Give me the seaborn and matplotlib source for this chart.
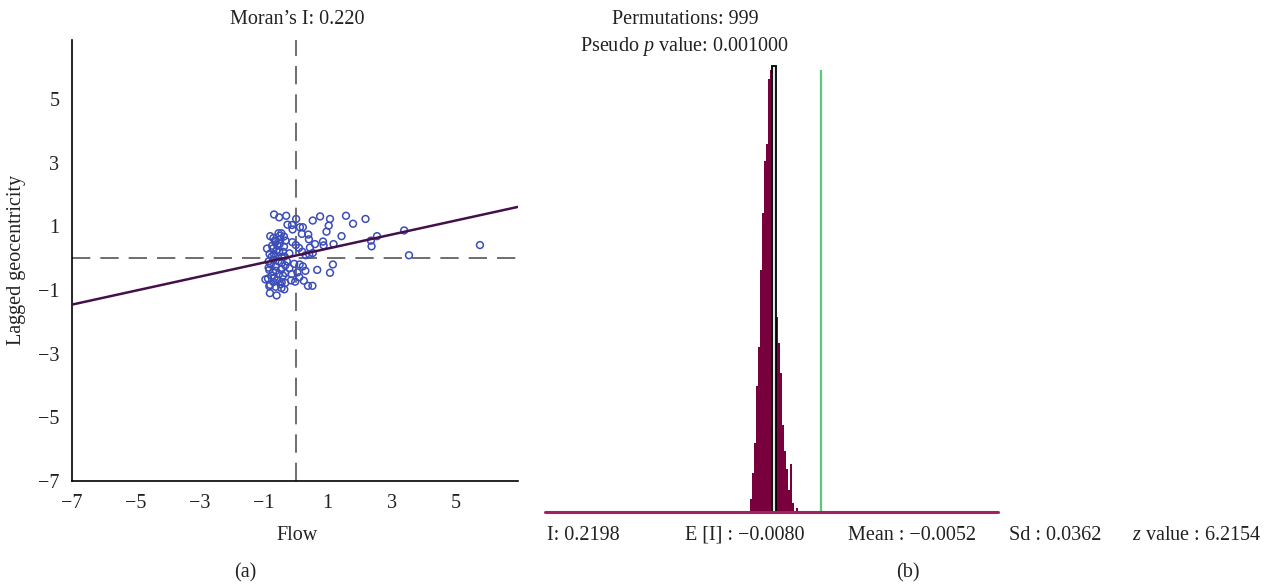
import numpy as np
import pandas as pd
import matplotlib
matplotlib.use("Agg")
import matplotlib.pyplot as plt
import seaborn as sns

# ---- panel (a): Moran scatter, standardised flow vs lagged geocentricity
flow = [-0.68, -0.52, -0.30, 0.01, 0.53, 0.76, 1.07, 1.57, 2.18, 1.79,
        -0.26, -0.12, 0.13, 0.22, 1.03, 0.96, 0.19, 0.39, 0.41, 1.43,
        2.54, 3.39, 2.35, 2.37, 5.76, 3.54, -0.80, -0.70, -0.54, -0.45,
        -0.37, -0.32, -0.64, -0.48, -0.74, -0.58, -0.37, -0.11, 0.00, 0.10,
        0.60, 0.44, 0.85, 0.87, 1.18, 0.53, 0.42, 0.31, -0.82, -0.68,
        -0.52, -0.44, -0.78, -0.63, -0.44, -0.33, -0.20, -0.05, 0.12, 0.22,
        0.67, 1.16, 1.07, -0.83, -0.71, -0.52, -0.33, -0.13, -0.87, -0.67,
        -0.44, -0.33, -0.02, 0.11, 0.25, 0.38, 0.52, -0.80, -0.63, -0.45,
        -0.36, -0.81, -0.60, -0.95, -0.83, -0.75, -0.60, -0.50, -0.40, -0.70,
        -0.55, -0.85, -0.65, -0.45, -0.75, -0.58, -0.40, -0.90, -0.35, -0.50,
        -0.62, -0.72, -0.28, -0.20, -0.85, -0.48, -0.70, -0.15, 0.05, 0.20,
        -0.10, 0.30]
lagged = [1.37, 1.28, 1.33, 1.23, 1.18, 1.31, 1.23, 1.33, 1.23, 1.08,
          1.05, 1.04, 0.97, 0.97, 1.02, 0.83, 0.76, 0.74, 0.59, 0.69,
          0.69, 0.87, 0.55, 0.37, 0.41, 0.09, 0.69, 0.63, 0.78, 0.78,
          0.68, 0.55, 0.50, 0.59, 0.39, 0.41, 0.36, 0.50, 0.41, 0.32,
          0.44, 0.33, 0.52, 0.40, 0.44, 0.16, 0.12, 0.09, 0.13, 0.13,
          0.18, 0.04, -0.20, -0.26, -0.15, -0.23, -0.32, -0.18, -0.20, -0.26,
          -0.37, -0.20, -0.46, -0.37, -0.43, -0.50, -0.47, -0.50, -0.64, -0.62,
          -0.76, -0.78, -0.74, -0.60, -0.71, -0.87, -0.87, -0.84, -0.90, -0.94,
          -0.98, -1.10, -1.17, -0.67, -0.88, 0.05, 0.25, 0.45, 0.20, -0.05,
          -0.10, -0.10, 0.55, -0.35, -0.55, -0.70, -0.55, 0.30, 0.05, 0.70,
          -0.40, 0.30, -0.10, 0.15, -0.30, -0.82, -0.75, -0.70, -0.45, 0.20,
          0.90, -0.40]
moran_i = 0.220
fit_intercept = 0.08
ticks_a = [-7, -5, -3, -1, 1, 3, 5]

# ---- panel (b): reference distribution of 999 permutations
perm_left = -0.1204
perm_width = 0.0096
perm_counts = [3, 9, 16, 29, 38, 56, 69, 81, 85, 100, 102, 103,
               60, 45, 39, 32, 20, 14, 10, 5, 11, 2, 0, 1]
peak_bin = 11
observed_i = 0.2198
green_top = 102
stats = [("I: 0.2198", 547), ("E [I] : \u22120.0080", 685),
         ("Mean : \u22120.0052", 848), ("Sd : 0.0362", 1009),
         ("$z$ value : 6.2154", 1132)]

sns.set_theme(style="white")
plt.rcParams["font.family"] = ["Liberation Serif", "DejaVu Serif"]
plt.rcParams["mathtext.fontset"] = "custom"
plt.rcParams["mathtext.rm"] = "Liberation Serif"
plt.rcParams["mathtext.it"] = "Liberation Serif:italic"

W, H = 1285, 588
fig = plt.figure(figsize=(W / 100, H / 100), dpi=100)


def fx(x):
    return x / W


def fy(y):
    return 1 - y / H


txt = "#222222"
fs = 14.5

# ---------------- panel a
ax = fig.add_axes([fx(72), fy(481), fx(518) - fx(72), fy(40) - fy(481)])
ax.axvline(0, color="#555555", lw=1.2, dashes=(11, 6), zorder=1)
ax.axhline(0, color="#555555", lw=1.2, dashes=(11, 6), zorder=1)
sns.scatterplot(x=flow, y=lagged, ax=ax, marker="o", s=24,
                facecolors="none", edgecolor="#3b4db8", linewidth=1.1, zorder=3)
ax.axline((0, fit_intercept), slope=moran_i, color="#43104a", lw=1.8, zorder=4)
ax.set_xlim(-7, 6.95)
ax.set_ylim(-7, 6.85)
ax.set_xticks(ticks_a)
ax.set_yticks(ticks_a)
for side in ["top", "right"]:
    ax.spines[side].set_visible(False)
for side in ["left", "bottom"]:
    ax.spines[side].set_color("black")
    ax.spines[side].set_linewidth(1.2)
ax.tick_params(axis="both", direction="out", length=5, width=1.2,
               colors="black", labelsize=fs, labelcolor=txt, pad=4)
ax.set_xlabel("")
ax.set_ylabel("")
fig.text(fx(297), fy(19), "Moran\u2019s I: 0.220", ha="center", va="center", fontsize=fs, color=txt)
fig.text(fx(297), fy(535), "Flow", ha="center", va="center", fontsize=fs, color=txt)
fig.text(fx(17), fy(260), "Lagged geocentricity", ha="center", va="center",
         rotation=90, fontsize=fs, color=txt)
fig.text(fx(245), fy(573), "(a)", ha="center", va="center", fontsize=fs, color=txt)

# ---------------- panel b
counts_per_px = 103 / 446
bx = fig.add_axes([fx(545), fy(512), fx(998) - fx(545), 105 / counts_per_px / H])
edges = perm_left + perm_width * np.arange(len(perm_counts) + 1)
perm = pd.DataFrame({"I": edges[:-1] + perm_width / 2, "n": perm_counts})
sns.histplot(data=perm, x="I", weights="n", bins=list(edges), ax=bx,
             color="#78003c", edgecolor="none", alpha=1, linewidth=0, zorder=2)
# highlighted (selected) bin drawn as an outlined bar over the peak
bx.bar(edges[peak_bin], perm["n"][peak_bin], width=2 * perm_width, align="edge",
       color="#dfe6e3", edgecolor="black", linewidth=1.3, zorder=4)
bx.vlines(observed_i, 0, green_top, color="#5cc77c", lw=1.6, zorder=3)
bx.axhline(0, color="#a3215f", lw=2.2, zorder=5, clip_on=False)
bx.set_xlim(-1.101, 1.067)
bx.set_ylim(0, 105)
bx.set_axis_off()

fig.text(fx(685), fy(20), "Permutations: 999", ha="center", va="center", fontsize=fs, color=txt)
fig.text(fx(685), fy(46), "Pseudo $p$ value: 0.001000", ha="center", va="center", fontsize=fs, color=txt)
for label, x0 in stats:
    fig.text(fx(x0), fy(535), label, ha="left", va="center", fontsize=fs, color=txt)
fig.text(fx(908), fy(573), "(b)", ha="center", va="center", fontsize=fs, color=txt)

fig.savefig("out.png", dpi=100)
